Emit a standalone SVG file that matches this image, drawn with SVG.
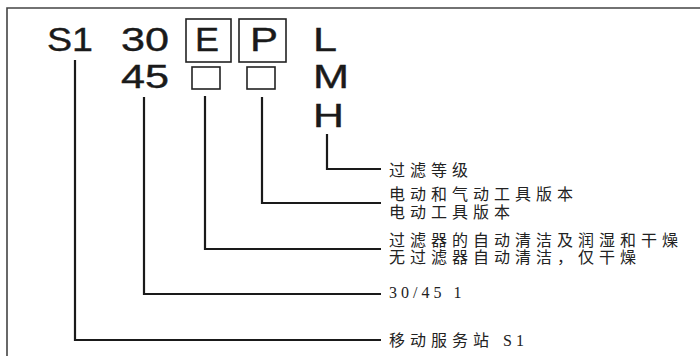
<svg xmlns="http://www.w3.org/2000/svg" width="700" height="356" viewBox="0 0 700 356">
<style>
.big{font-family:"Liberation Sans",Arial,sans-serif;font-size:33px;fill:#1a1a1a;stroke:#1a1a1a;stroke-width:0.4}
.lbl{font-family:"Liberation Serif","Noto Sans CJK SC",serif;font-size:16px;fill:#222;letter-spacing:5px}
.num{font-family:"Liberation Serif","Noto Sans CJK SC",serif;font-size:16px;fill:#222;letter-spacing:4px}
.box{fill:none;stroke:#222;stroke-width:1.6}
.conn{fill:none;stroke:#1a1a1a;stroke-width:2.2}
.frame{fill:none;stroke:#444;stroke-width:1.6}
</style>
<rect width="700" height="356" fill="#fff"/>
<path class="frame" d="M7,356 V8 H700"/>
<g id="code-s1"><text class="big" x="47" y="51" textLength="46" lengthAdjust="spacingAndGlyphs">S1</text></g>
<g id="code-30"><text class="big" x="121" y="51" textLength="48" lengthAdjust="spacingAndGlyphs">30</text></g>
<g id="code-45"><text class="big" x="121" y="88" textLength="48" lengthAdjust="spacingAndGlyphs">45</text></g>
<g id="code-e"><rect class="box" x="186" y="19" width="45" height="43"/><text class="big" x="195" y="51" textLength="24" lengthAdjust="spacingAndGlyphs">E</text></g>
<g id="code-p"><rect class="box" x="239" y="19" width="47" height="43"/><text class="big" x="250" y="51" textLength="28" lengthAdjust="spacingAndGlyphs">P</text></g>
<g id="box-e2"><rect class="box" x="192" y="67" width="28" height="22"/></g>
<g id="box-p2"><rect class="box" x="247" y="67" width="28" height="22"/></g>
<g id="code-l"><text class="big" x="313" y="51" textLength="24" lengthAdjust="spacingAndGlyphs">L</text></g>
<g id="code-m"><text class="big" x="313" y="88" textLength="36" lengthAdjust="spacingAndGlyphs">M</text></g>
<g id="code-h"><text class="big" x="313" y="127" textLength="31" lengthAdjust="spacingAndGlyphs">H</text></g>
<g id="connectors">
<path class="conn" d="M327,134 V169 H381"/>
<path class="conn" d="M262,97 V203 H381"/>
<path class="conn" d="M205,96 V249 H381"/>
<path class="conn" d="M144,97 V294 H381"/>
<path class="conn" d="M75,60 V340 H381"/>
</g>
<g id="label-filter"><text class="lbl" x="389" y="176">过滤等级</text></g>
<g id="label-p"><text class="lbl" x="389" y="200">电动和气动工具版本</text><text class="lbl" x="389" y="218">电动工具版本</text></g>
<g id="label-e"><text class="lbl" x="389" y="246">过滤器的自动清洁及润湿和干燥</text><text class="lbl" x="389" y="263">无过滤器自动清洁，仅干燥</text></g>
<g id="label-size"><text class="num" x="389" y="298">30/45 1</text></g>
<g id="label-s1"><text class="lbl" x="389" y="345.5">移动服务站 <tspan style="letter-spacing:4px">S1</tspan></text></g>
</svg>
